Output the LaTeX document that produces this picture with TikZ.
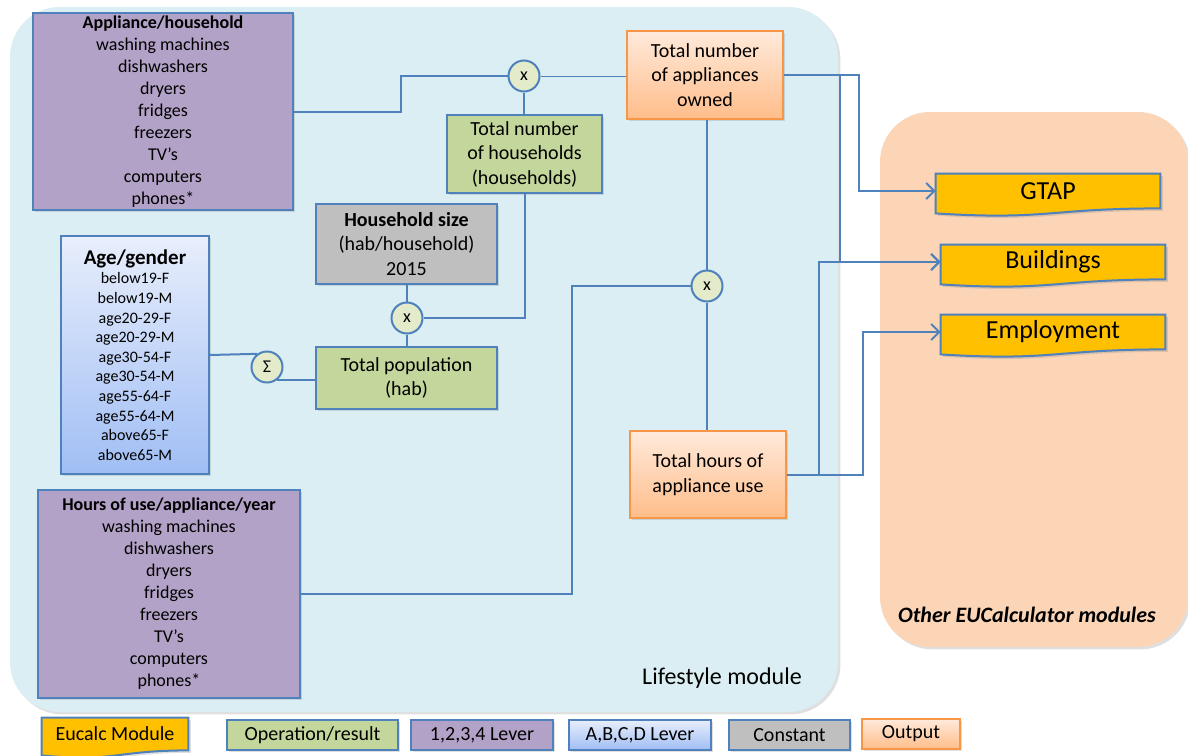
\documentclass[tikz,border=0pt]{standalone}
\usepackage{fontspec}
\setmainfont{Carlito}
\usetikzlibrary{arrows.meta,shadows,calc,backgrounds}

\definecolor{cLife}{HTML}{DAEEF3}
\definecolor{cOther}{HTML}{FBD5B5}
\definecolor{cLever}{HTML}{B3A2C7}
\definecolor{cOper}{HTML}{C3D69B}
\definecolor{cConst}{HTML}{BFBFBF}
\definecolor{cModule}{HTML}{FFC000}
\definecolor{cLink}{HTML}{4F81BD}
\definecolor{cOutEdge}{HTML}{F79646}
\definecolor{cOutTop}{HTML}{FFEADB}
\definecolor{cOutBot}{HTML}{FFBD8A}
\definecolor{cAbcTop}{HTML}{E8EEFC}
\definecolor{cAbcBot}{HTML}{A0BEF4}
\definecolor{cOpFill}{HTML}{E3EBCB}

\begin{document}
\begin{tikzpicture}[x=0.5pt,y=-0.5pt]
    \tikzstyle{every node}=[font=\fontsize{10}{12.25}\selectfont,align=center,inner sep=0pt]
    \tikzstyle{boxshadow}=[drop shadow={opacity=0.25,shadow xshift=1.2pt,shadow yshift=-1.2pt}]
    \tikzstyle{lever}=[draw=cLink,line width=1pt,fill=cLever,boxshadow,font=\fontsize{9}{11}\selectfont]
    \tikzstyle{oper}=[draw=cLink,line width=1pt,fill=cOper,boxshadow]
    \tikzstyle{const}=[draw=cLink,line width=1pt,fill=cConst,boxshadow]
    \tikzstyle{abclever}=[draw=cLink,line width=1pt,top color=cAbcTop,bottom color=cAbcBot,boxshadow]
    \tikzstyle{output}=[draw=cOutEdge,line width=1pt,top color=cOutTop,bottom color=cOutBot,boxshadow]
    \tikzstyle{opcircle}=[circle,draw=cLink,line width=1pt,fill=cOpFill,minimum size=15.5pt,font=\fontsize{9}{10}\selectfont]
    \tikzstyle{module}=[minimum width=112pt,minimum height=17pt,font=\fontsize{13}{14}\selectfont]
    \tikzstyle{modshape}=[draw=cLink,line width=1pt,fill=cModule,boxshadow]
    \tikzstyle{legend}=[minimum height=15pt,font=\fontsize{10}{12}\selectfont]
    \tikzstyle{link}=[cLink,line width=1pt]
    \tikzstyle{linkarrow}=[link,-{Straight Barb[length=4pt,width=8pt]}]

    \useasboundingbox (0,0) rectangle (1188,755);

    \node[lever,minimum width=130pt,minimum height=98.5pt] (appl) at (163,111.5)
    {\textbf{Appliance/household}\\washing machines\\dishwashers\\dryers\\fridges\\freezers\\TV’s\\computers\\phones*};

    \node[abclever,minimum width=74pt,minimum height=119pt,font=\fontsize{8}{9.8}\selectfont] (agegender) at (135,355)
    {{\fontsize{10.5}{12}\selectfont\textbf{Age/gender}}\\below19-F\\below19-M\\age20-29-F\\age20-29-M\\age30-54-F\\age30-54-M\\age55-64-F\\age55-64-M\\above65-F\\above65-M};

    \node[lever,minimum width=131pt,minimum height=104pt] (hoursuse) at (169,594)
    {\textbf{Hours of use/appliance/year}\\washing machines\\dishwashers\\dryers\\fridges\\freezers\\TV’s\\computers\\phones*};

    \node[const,minimum width=90.5pt,minimum height=40pt] (hhsize) at (406.5,244) {\textbf{Household size}\\(hab/household)\\2015};
    \node[oper,minimum width=77.5pt,minimum height=39pt] (hh) at (524.5,154) {Total number\\of households\\(households)};
    \node[oper,minimum width=90.5pt,minimum height=31pt] (totpop) at (406.5,378) {Total population\\(hab)};
    \node[output,minimum width=78pt,minimum height=44pt] (owned) at (705,75) {Total number\\of appliances\\owned};
    \node[output,minimum width=78pt,minimum height=43.5pt] (hourstot) at (708,474.5) {Total hours of\\appliance use};

    \node[opcircle] (x1) at (524,76) {x};
    \node[opcircle] (x2) at (407,318) {x};
    \node[opcircle] (x3) at (707,286) {x};
    \node[opcircle] (sum) at (267,367) {Σ};

    \node[module] (gtap) at (1048,191) {GTAP};
    \node[module] (bldg) at (1053,262) {Buildings};
    \node[module] (empl) at (1053,332) {Employment};

    \node[font=\fontsize{12}{14}\selectfont] (lifelabel) at (722,678) {Lifestyle module};
    \node[font=\fontsize{11}{13}\selectfont\bfseries\itshape] (otherlabel) at (1027,615) {Other EUCalculator modules};

    \node[legend,minimum width=73pt,minimum height=16pt] (leg1) at (115,734) {Eucalc Module};
    \node[oper,legend,minimum width=85.5pt] (leg2) at (312.5,735) {Operation/result};
    \node[lever,legend,minimum width=71pt] (leg3) at (482,735) {1,2,3,4 Lever};
    \node[abclever,legend,minimum width=71pt] (leg4) at (640,735) {A,B,C,D Lever};
    \node[const,legend,minimum width=60.5pt] (leg5) at (789.5,735) {Constant};
    \node[output,legend,minimum width=49pt] (leg6) at (911,734) {Output};

    \coordinate (bend1) at (401,76);
    \coordinate (bend2) at (572,286);
    \coordinate (bend3) at (859,191);
    \coordinate (bend4) at (840,262);
    \coordinate (bend5) at (819,262);
    \coordinate (bend6) at (863,332);

    \draw[link] (appl.east) -| (bend1) -- (x1);
    \draw[link,line width=0.5pt] (x1) -- (x1 -| owned.west);
    \draw[link] (x1) -- (x1 |- hh.north);
    \draw[link] (x2) -- (x2 |- hhsize.south);
    \draw[link] (x2) -- (x2 |- totpop.north);
    \draw[link] (x2) -| (hh.south);
    \draw[link] (agegender.east) -- (sum.127);
    \draw[link] (sum.-53) -- (sum.-53 -| totpop.west);
    \draw[link] (x3) -- (x3 |- owned.south);
    \draw[link] (x3) -- (x3 |- hourstot.north);
    \draw[link] (hoursuse.east) -| (bend2) -- (x3);
    \draw[linkarrow] (owned.east) -| (bend3) -- (gtap.west);
    \draw[linkarrow] (owned.east) -| (bend4) -- (bldg.west);
    \draw[linkarrow] (hourstot.east) -| (bend5) -- (bldg.west);
    \draw[linkarrow] (hourstot.east) -| (bend6) -- (empl.west);

    \begin{scope}[on background layer]
        \fill[cLife,rounded corners=25pt,boxshadow] (10,7) rectangle (838,712);
        \fill[cOther,rounded corners=25pt,boxshadow] (880,112) rectangle (1188,647);
        \foreach \m in {gtap,bldg,empl,leg1}
            \filldraw[modshape] (\m.north west) -- (\m.north east) -- (\m.south east)
            .. controls (\m.south) and ($(\m.south)+(0,12)$) .. ($(\m.south west)+(0,5)$) -- cycle;
    \end{scope}

\end{tikzpicture}
\end{document}
